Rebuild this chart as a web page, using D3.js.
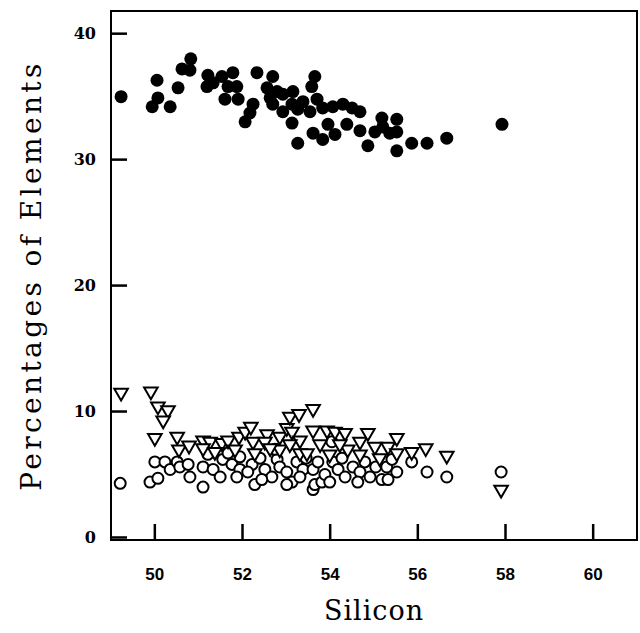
<!DOCTYPE html>
<html>
<head>
<meta charset="utf-8">
<script src="https://cdn.jsdelivr.net/npm/d3@7"></script>
<style>
  body { margin: 0; background: #fff; }
  svg { display: block; }
</style>
</head>
<body>
<div id="chart"></div>
<script>
// filled circles (upper group)
var filledSi = [49.23, 49.94, 50.07, 50.05, 50.35, 50.53, 50.62, 50.82, 50.80, 51.21, 51.19, 51.33, 51.53, 51.78, 51.87, 51.67, 51.60, 51.90, 52.24, 52.17, 52.06, 52.33, 52.69, 52.56, 52.63, 52.79, 52.92, 53.15, 53.13, 52.69, 52.92, 53.13, 53.38, 53.26, 53.58, 53.65, 53.61, 53.26, 53.83, 53.70, 53.54, 53.83, 54.29, 54.68, 54.06, 54.50, 53.95, 54.11, 54.38, 54.68, 54.86, 55.02, 55.18, 55.52, 55.36, 55.52, 55.52, 55.86, 56.21, 56.66, 57.92, 55.20]
var filledPct = [35.0, 34.2, 34.9, 36.3, 34.2, 35.7, 37.2, 38.0, 37.1, 36.7, 35.8, 36.1, 36.6, 36.9, 35.8, 35.8, 34.8, 34.8, 34.4, 33.7, 33.0, 36.9, 36.6, 35.7, 34.9, 35.4, 35.2, 35.4, 34.4, 34.4, 33.8, 32.9, 34.6, 34.0, 35.8, 36.6, 32.1, 31.3, 31.6, 34.8, 33.8, 34.1, 34.4, 33.8, 34.2, 34.1, 32.8, 32.0, 32.8, 32.3, 31.1, 32.2, 33.3, 33.2, 32.1, 32.2, 30.7, 31.3, 31.3, 31.7, 32.8, 32.6]

// open triangles
var triSi = [49.23, 49.91, 50.07, 50.30, 50.19, 50.00, 50.51, 50.55, 50.78, 51.10, 51.26, 51.10, 51.53, 51.67, 51.92, 52.06, 52.19, 52.24, 52.28, 52.56, 52.51, 52.85, 52.85, 53.01, 53.13, 53.08, 53.29, 53.31, 53.31, 53.61, 53.61, 53.47, 53.93, 54.11, 54.34, 54.40, 54.68, 54.86, 55.02, 55.32, 55.52, 55.52, 55.86, 56.18, 56.66, 57.90, 53.77, 54.22, 52.63, 51.83, 51.37, 53.08, 53.99, 54.68, 55.13]
var triPct = [11.5, 11.6, 10.4, 10.1, 9.3, 7.9, 8.0, 7.0, 7.3, 7.7, 7.6, 7.1, 7.5, 7.7, 8.0, 8.4, 8.8, 7.6, 6.7, 8.2, 7.6, 8.0, 7.0, 8.7, 8.4, 9.6, 9.8, 7.7, 6.7, 10.2, 8.5, 6.7, 8.5, 8.4, 8.3, 7.0, 7.6, 8.3, 7.2, 7.2, 7.9, 6.7, 6.8, 7.1, 6.5, 3.8, 7.4, 7.4, 7.1, 7.0, 6.8, 7.4, 6.6, 6.6, 6.3]

// open circles
var openSi = [49.21, 49.89, 50.07, 50.00, 50.23, 50.35, 50.51, 50.57, 50.76, 50.80, 51.10, 51.10, 51.21, 51.33, 51.49, 51.55, 51.76, 51.67, 51.94, 51.94, 51.87, 52.28, 52.22, 52.40, 52.51, 52.67, 52.79, 52.85, 53.01, 53.13, 53.24, 53.38, 52.74, 53.61, 53.65, 53.81, 53.61, 53.72, 53.88, 54.06, 54.04, 54.18, 54.34, 54.27, 54.52, 54.68, 54.79, 54.91, 55.04, 55.18, 55.32, 55.29, 55.52, 55.41, 55.86, 56.21, 56.66, 57.90, 53.01, 53.31, 52.44, 52.12, 53.45, 53.99, 54.63]
var openPct = [4.3, 4.4, 4.7, 6.0, 6.0, 5.4, 6.0, 5.6, 5.8, 4.8, 4.0, 5.6, 6.6, 5.4, 4.8, 6.2, 5.8, 6.7, 6.4, 5.4, 4.8, 4.2, 5.8, 6.3, 5.4, 4.8, 6.2, 5.6, 5.2, 4.4, 6.0, 5.4, 7.0, 3.8, 4.2, 4.4, 5.4, 6.0, 5.0, 6.0, 7.6, 5.4, 4.8, 6.3, 5.6, 5.2, 6.0, 4.8, 5.6, 4.6, 4.6, 5.6, 5.2, 6.2, 6.0, 5.2, 4.8, 5.2, 4.2, 4.8, 4.6, 5.2, 6.3, 4.4, 4.4]

var xTicks = [50, 52, 54, 56, 58, 60]
var yTicks = [0, 10, 20, 30, 40]

var svgWidth = 640;
var svgHeight = 633;

var margin = { top: 11, right: 3, bottom: 93, left: 111 };
var chartWidth = svgWidth - margin.left - margin.right;
var chartHeight = svgHeight - margin.top - margin.bottom;

var svg = d3.select("#chart").append("svg")
  .attr("width", svgWidth)
  .attr("height", svgHeight);

var chartGroup = svg.append("g")
  .attr("transform", `translate(${margin.left},${margin.top})`);

var xScale = d3.scaleLinear().domain([49, 61]).range([0, chartWidth]);
var yScale = d3.scaleLinear().domain([-0.2, 41.8]).range([chartHeight, 0]);

// frame
chartGroup.append("rect")
  .attr("x", 0).attr("y", 0)
  .attr("width", chartWidth).attr("height", chartHeight)
  .attr("fill", "none").attr("stroke", "#000").attr("stroke-width", 2);

// tick marks, pointing inward
chartGroup.append("g").selectAll("rect")
  .data(xTicks)
  .enter().append("rect")
  .attr("x", function(d) { return xScale(d) - 1.25; })
  .attr("y", chartHeight - 16)
  .attr("width", 2.5)
  .attr("height", 16)
  .attr("fill", "#000");

chartGroup.append("g").selectAll("rect")
  .data(yTicks)
  .enter().append("rect")
  .attr("x", 0)
  .attr("y", function(d) { return yScale(d) - 1.25; })
  .attr("width", 16)
  .attr("height", 2.5)
  .attr("fill", "#000");

// tick labels
chartGroup.append("g").selectAll("text")
  .data(xTicks)
  .enter().append("text")
  .attr("x", function(d) { return xScale(d); })
  .attr("y", chartHeight + 40)
  .attr("text-anchor", "middle")
  .attr("font-family", "Liberation Sans, Arial, sans-serif")
  .attr("font-weight", "bold")
  .attr("font-size", 17)
  .text(function(d) { return d; });

chartGroup.append("g").selectAll("text")
  .data(yTicks)
  .enter().append("text")
  .attr("x", -15)
  .attr("y", function(d) { return yScale(d); })
  .attr("dy", "0.35em")
  .attr("text-anchor", "end")
  .attr("font-family", "DejaVu Serif, serif")
  .attr("font-weight", "bold")
  .attr("font-size", 16)
  .text(function(d) { return d; });

// upper series: filled circles
chartGroup.append("g").selectAll("circle")
  .data(filledSi)
  .enter().append("circle")
  .attr("cx", function(d) { return xScale(d); })
  .attr("cy", function(d, i) { return yScale(filledPct[i]); })
  .attr("r", 6.5)
  .attr("fill", "#000");

// open circles
chartGroup.append("g").selectAll("circle")
  .data(openSi)
  .enter().append("circle")
  .attr("cx", function(d) { return xScale(d); })
  .attr("cy", function(d, i) { return yScale(openPct[i]); })
  .attr("r", 5.5)
  .attr("fill", "#fff")
  .attr("stroke", "#000")
  .attr("stroke-width", 2);

// open triangles (pointing down)
var tri = d3.symbol().type(d3.symbolTriangle).size(80);
chartGroup.append("g").selectAll("path")
  .data(triSi)
  .enter().append("path")
  .attr("d", tri)
  .attr("transform", function(d, i) {
    return `translate(${xScale(d)},${yScale(triPct[i])}) rotate(180)`;
  })
  .attr("fill", "#fff")
  .attr("stroke", "#000")
  .attr("stroke-width", 2);

// axis titles
svg.append("text")
  .attr("x", margin.left + chartWidth / 2)
  .attr("y", 620)
  .attr("text-anchor", "middle")
  .attr("font-family", "DejaVu Serif, serif")
  .attr("font-size", 27)
  .attr("letter-spacing", 1)
  .text("Silicon");

svg.append("text")
  .attr("transform", `translate(41,${margin.top + chartHeight / 2}) rotate(-90)`)
  .attr("text-anchor", "middle")
  .attr("font-family", "DejaVu Serif, serif")
  .attr("font-size", 28)
  .attr("letter-spacing", 3.4)
  .text("Percentages of Elements");
</script>
</body>
</html>
